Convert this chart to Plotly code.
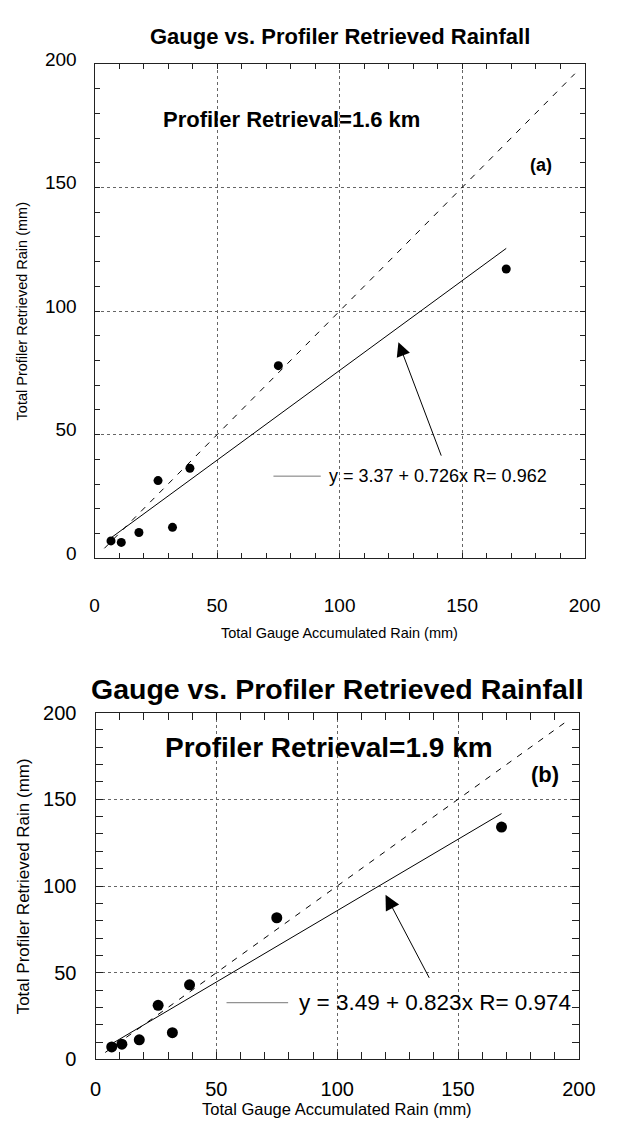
import plotly.graph_objects as go

W, H = 618, 1131

# Rain gauge totals (mm) and profiler-retrieved totals at two retrieval heights
gauge_mm = [6.7, 10.9, 18.1, 25.9, 31.8, 38.9, 75.0, 168.0]
profiler_16km_mm = [7.0, 6.4, 10.4, 31.4, 12.5, 36.4, 77.9, 117.0]
profiler_19km_mm = [7.2, 8.8, 11.3, 31.2, 15.4, 43.0, 81.7, 134.0]

# Linear fits: intercept, slope, correlation
fit_16km = (3.37, 0.726, 0.962)
fit_19km = (3.49, 0.823, 0.974)

one_to_one = [4, 196]
axis_ticks = [0, 50, 100, 150, 200]
axis_range = [0, 200]

FONT = "Liberation Sans, Arial, Helvetica, sans-serif"


def px(x):
    return x / W


def py(y):
    return 1 - y / H


panels = [
    dict(
        name="1.6", label="(a)", y=profiler_16km_mm, fit=fit_16km,
        box=(92, 601, 50, 556), title_y=22, title_size=22,
        tick_size=19, xlab_standoff=30, ylab_standoff=13, ylab_shift=-5,
        ticklen=5, marker=9,
        ret_pos=(27, 177.5), ret_size=22,
        lab_pos=(182, 159), lab_size=18,
        eq_pos=(95, 33.2), eq_size=18, eq_line=(73, 92.3),
        arrow=((124, 87.4), (141.7, 40.9)), arrow_size=2.8,
        xtitle_y=633, xtitle_size=14.5, ytitle_x=17, ytitle_size=14.5,
    ),
    dict(
        name="1.9", label="(b)", y=profiler_19km_mm, fit=fit_19km,
        box=(93, 595, 714, 1069), title_y=690, title_size=28.5,
        tick_size=20, xlab_standoff=11, ylab_standoff=14, ylab_shift=0,
        ticklen=7, marker=11,
        ret_pos=(28, 179.7), ret_size=28,
        lab_pos=(186, 164.5), lab_size=22,
        eq_pos=(83.3, 32.7), eq_size=22.5, eq_line=(54.2, 79.7),
        arrow=((120, 95), (138.4, 46.2)), arrow_size=3,
        xtitle_y=1120, xtitle_size=16.5, ytitle_x=18, ytitle_size=17,
    ),
]

fig = go.Figure()
annotations = []
shapes = []

for i, p in enumerate(panels, start=1):
    xa = "x" if i == 1 else f"x{i}"
    ya = "y" if i == 1 else f"y{i}"
    a, b, r = p["fit"]

    fig.add_trace(go.Scatter(
        x=one_to_one, y=one_to_one, mode="lines",
        line=dict(color="black", width=1, dash="6px,7px"),
        xaxis=xa, yaxis=ya, showlegend=False, hoverinfo="skip",
    ))
    fit_x = [min(gauge_mm), max(gauge_mm)]
    fig.add_trace(go.Scatter(
        x=fit_x, y=[a + b * v for v in fit_x], mode="lines",
        line=dict(color="black", width=1),
        xaxis=xa, yaxis=ya, showlegend=False,
    ))
    fig.add_trace(go.Scatter(
        x=gauge_mm, y=p["y"], mode="markers",
        marker=dict(color="black", size=p["marker"]),
        xaxis=xa, yaxis=ya, showlegend=False,
    ))

    x0, x1, y0, y1 = p["box"]
    common = dict(
        range=axis_range, tickvals=axis_ticks, showline=True, linecolor="#222",
        linewidth=1.2, mirror="allticks", ticks="inside", ticklen=p["ticklen"],
        tickcolor="#222", showgrid=True, gridcolor="#666", griddash="dot",
        gridwidth=1, zeroline=False, fixedrange=True,
        tickfont=dict(family=FONT, size=p["tick_size"], color="black"),
        minor=dict(dtick=10, tick0=0, ticks="inside", ticklen=p["ticklen"],
                   tickcolor="#222", showgrid=False),
    )
    fig.update_layout({
        ("xaxis" if i == 1 else f"xaxis{i}"): dict(
            common, domain=[px(x0), px(x1)], anchor=ya,
            ticklabelstandoff=p["xlab_standoff"],
        ),
        ("yaxis" if i == 1 else f"yaxis{i}"): dict(
            common, domain=[py(y1), py(y0)], anchor=xa,
            ticklabelstandoff=p["ylab_standoff"], ticklabelshift=p["ylab_shift"],
        ),
    })

    annotations.append(dict(
        text="<b>Gauge vs. Profiler Retrieved Rainfall</b>", xref="paper", yref="paper",
        x=px((x0 + x1) / 2), y=py(p["title_y"]), xanchor="center", yanchor="middle",
        showarrow=False, font=dict(family=FONT, size=p["title_size"], color="black"),
    ))
    annotations.append(dict(
        text=f"<b>Profiler Retrieval={p['name']} km</b>", xref=xa, yref=ya,
        x=p["ret_pos"][0], y=p["ret_pos"][1], xanchor="left", yanchor="middle",
        showarrow=False, font=dict(family=FONT, size=p["ret_size"], color="black"),
    ))
    annotations.append(dict(
        text=f"<b>{p['label']}</b>", xref=xa, yref=ya,
        x=p["lab_pos"][0], y=p["lab_pos"][1], xanchor="center", yanchor="middle",
        showarrow=False, font=dict(family=FONT, size=p["lab_size"], color="black"),
    ))
    annotations.append(dict(
        text=f"y = {a:.2f} + {b:.3f}x R= {r:.3f}", xref=xa, yref=ya,
        x=p["eq_pos"][0], y=p["eq_pos"][1], xanchor="left", yanchor="middle",
        showarrow=False, font=dict(family=FONT, size=p["eq_size"], color="black"),
    ))
    (hx, hy), (tx, ty) = p["arrow"]
    annotations.append(dict(
        text="", xref=xa, yref=ya, x=hx, y=hy, axref=xa, ayref=ya, ax=tx, ay=ty,
        showarrow=True, arrowhead=2, arrowsize=p["arrow_size"], arrowwidth=1,
        arrowcolor="black", standoff=0, startstandoff=0,
    ))
    annotations.append(dict(
        text="Total Gauge Accumulated Rain (mm)", xref="paper", yref="paper",
        x=px((x0 + x1) / 2), y=py(p["xtitle_y"]), xanchor="center", yanchor="middle",
        showarrow=False, font=dict(family=FONT, size=p["xtitle_size"], color="black"),
    ))
    annotations.append(dict(
        text="Total Profiler Retrieved Rain (mm)", xref="paper", yref="paper",
        x=px(p["ytitle_x"]), y=py((y0 + y1) / 2), xanchor="center", yanchor="middle",
        textangle=-90, showarrow=False,
        font=dict(family=FONT, size=p["ytitle_size"], color="black"),
    ))
    shapes.append(dict(
        type="line", xref=xa, yref=ya, x0=p["eq_line"][0], x1=p["eq_line"][1],
        y0=p["eq_pos"][1], y1=p["eq_pos"][1], line=dict(color="#777", width=1),
    ))

fig.update_layout(
    width=W, height=H, autosize=False,
    margin=dict(l=0, r=0, t=0, b=0),
    paper_bgcolor="white", plot_bgcolor="white",
    annotations=annotations, shapes=shapes,
    font=dict(family=FONT, color="black"),
)

fig.write_html("out.html")
